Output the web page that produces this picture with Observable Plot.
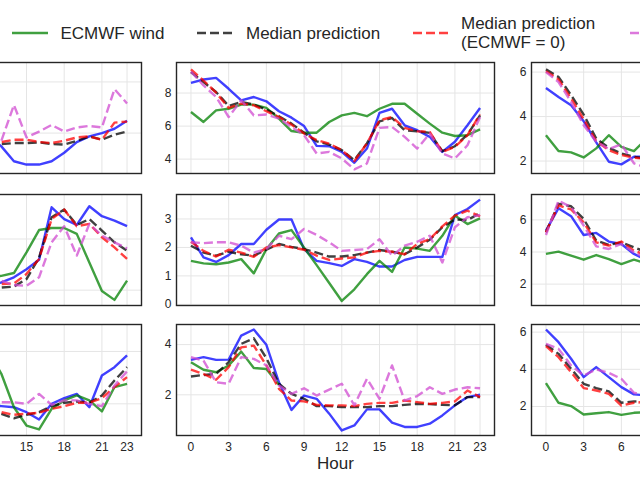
<!DOCTYPE html>
<html><head><meta charset="utf-8">
<script src="https://cdn.jsdelivr.net/npm/d3@7"></script>
<script src="https://cdn.jsdelivr.net/npm/@observablehq/plot@0.6"></script>
<style>
body{margin:0;background:#fff;}
#root{position:relative;width:640px;height:481px;overflow:hidden;font-family:"Liberation Sans",Arial,sans-serif;color:#262626;background:#fff}
#root svg{position:absolute;overflow:visible}
</style></head><body><div id="root"></div>
<script>
// ---------- categories / ticks ----------
const hoursAll = [0,1,2,3,4,5,6,7,8,9,10,11,12,13,14,15,16,17,18,19,20,21,22,23];
const hoursLate = [12,13,14,15,16,17,18,19,20,21,22,23];   // visible part of left column
const hoursEarly = [0,1,2,3,4,5,6,7,8];                      // visible part of right column
const xTicks = [0,3,6,9,12,15,18,21,23];
const legendLabels = ["ECMWF wind","Median prediction","Median prediction\n(ECMWF = 0)"];
const xLabel = "Hour";

// ---------- row 0 ----------
const r0c0_blue  = [3.9,3.48,2.9,2.77,2.77,2.9,3.23,3.65,3.87,4.0,4.17,4.48];
const r0c0_black = [3.57,3.57,3.61,3.61,3.64,3.57,3.55,3.7,3.87,3.74,3.94,4.06];
const r0c0_red   = [3.62,3.65,3.74,3.74,3.65,3.61,3.7,3.83,3.87,3.74,4.41,4.45];
const r0c0_pink  = [3.6,3.7,5.1,3.83,4.06,4.32,4.06,4.22,4.28,4.22,5.72,5.16];

const r0c1_green = [6.85,6.25,6.95,7.05,7.3,7.3,7.1,6.45,5.7,5.6,5.6,6.25,6.65,6.8,6.6,7.05,7.35,7.35,6.75,6.15,5.6,5.4,5.45,5.8];
const r0c1_blue  = [8.62,8.82,8.92,8.26,7.56,7.76,7.5,6.9,6.51,6.0,4.8,4.78,4.44,3.78,4.64,6.8,7.05,6.05,5.75,5.35,4.44,5.05,6.05,7.1];
const r0c1_black = [9.27,8.66,8.06,7.22,7.46,7.3,7.0,6.6,6.15,5.6,5.08,4.88,4.54,3.94,4.95,6.29,6.49,5.75,5.69,5.59,4.48,4.78,5.49,6.65];
const r0c1_red   = [9.43,8.76,8.02,7.1,7.36,7.26,6.9,6.55,6.09,5.55,5.15,4.94,4.54,3.88,4.95,6.35,6.55,5.89,5.69,5.65,4.44,4.74,5.45,6.71];
const r0c1_pink  = [9.3,8.46,7.76,6.55,7.56,6.65,6.7,6.45,5.95,5.45,4.34,4.44,4.04,3.38,3.74,5.89,5.95,5.35,4.64,5.55,4.34,4.04,4.84,6.55];

const r0c2_green = [3.16,2.45,2.39,2.16,2.57,3.16,2.64,2.45,3.0];
const r0c2_blue  = [5.28,4.88,4.51,3.79,2.84,1.97,1.85,2.19,2.2];
const r0c2_black = [6.12,5.78,4.96,4.09,3.01,2.6,2.34,2.19,2.1];
const r0c2_red   = [6.04,5.67,4.81,3.88,2.9,2.49,2.27,2.15,2.1];
const r0c2_pink  = [6.0,5.55,4.66,3.61,2.87,2.54,2.75,1.9,1.7];

// ---------- row 1 ----------
const r1c0_green = [2.5,2.56,2.67,3.48,4.35,4.43,4.43,4.2,3.08,1.97,1.62,2.37];
const r1c0_blue  = [2.2,2.3,2.5,2.82,3.19,5.24,4.78,4.55,5.28,4.89,4.72,4.5];
const r1c0_black = [2.1,2.1,2.14,2.43,3.28,4.85,5.15,4.55,4.78,4.33,3.87,3.54];
const r1c0_red   = [2.2,2.24,2.26,2.63,3.22,4.78,5.15,4.5,4.59,4.07,3.67,3.22];
const r1c0_pink  = [2.4,2.37,2.2,2.17,2.5,3.87,4.5,3.35,4.59,4.13,3.87,3.63];

const r1c1_green = [1.53,1.44,1.41,1.47,1.59,1.09,1.94,2.49,2.61,1.99,1.38,0.75,0.12,0.53,1.06,1.53,1.14,2.0,1.96,1.88,2.41,3.12,2.82,3.02];
const r1c1_blue  = [2.35,1.65,1.49,1.73,2.12,2.12,2.62,2.98,2.98,1.94,1.53,1.45,1.35,1.59,1.49,1.33,1.33,1.56,1.67,1.67,1.67,3.14,3.35,3.68];
const r1c1_black = [2.06,1.82,1.71,1.85,1.76,1.71,1.92,2.12,2.02,1.94,1.82,1.68,1.68,1.73,1.82,1.91,1.85,1.76,2.0,2.27,2.71,2.98,2.96,3.21];
const r1c1_red   = [2.2,1.88,1.68,1.92,1.82,1.67,2.0,2.08,2.0,1.92,1.71,1.56,1.61,1.65,1.82,1.88,1.85,1.76,2.12,2.29,2.74,3.12,3.29,3.09];
const r1c1_pink  = [2.18,2.15,2.18,2.18,2.06,1.82,1.94,2.41,2.29,2.65,2.44,2.18,1.88,1.91,1.94,2.29,1.71,2.06,2.2,2.41,1.47,2.71,3.06,3.14];

const r1c2_green = [3.88,4.02,3.77,3.52,3.81,3.56,3.25,3.52,3.3];
const r1c2_blue  = [5.33,6.73,6.23,5.06,5.19,4.65,4.5,3.88,3.5];
const r1c2_black = [5.23,7.0,6.85,6.06,4.71,4.44,4.6,4.29,4.0];
const r1c2_red   = [5.23,6.9,6.65,5.85,4.6,4.4,4.65,4.08,3.8];
const r1c2_pink  = [5.06,7.2,6.79,5.65,4.35,4.19,4.5,3.98,3.6];

// ---------- row 2 ----------
const r2c0_green = [4.0,3.15,1.87,1.17,1.02,1.81,2.13,2.32,2.13,1.71,2.64,2.76];
const r2c0_blue  = [1.95,1.91,1.87,1.68,1.4,2.0,2.22,2.38,1.87,3.08,3.4,3.85];
const r2c0_black = [1.75,1.62,1.45,1.58,1.68,1.91,2.04,2.09,2.04,2.32,2.89,3.4];
const r2c0_red   = [1.75,1.68,1.58,1.62,1.66,1.81,1.91,2.04,2.04,2.22,2.64,3.02];
const r2c0_pink  = [2.05,2.06,2.06,2.0,2.38,1.96,2.13,2.13,2.0,1.91,2.7,3.24];

const r2c1_green = [3.3,3.0,2.9,3.17,3.72,3.07,3.03,2.4];
const r2c1_blue  = [3.39,3.5,3.39,3.4,4.36,4.6,3.99,2.5,1.4,1.97,1.84,1.25,0.58,0.78,1.42,1.42,0.89,0.72,0.72,0.85,1.18,1.58,1.91,2.01];
const r2c1_black = [2.73,2.79,2.83,3.3,4.03,4.25,3.46,2.44,2.04,1.84,1.55,1.55,1.51,1.51,1.51,1.55,1.55,1.6,1.64,1.63,1.6,1.58,1.91,1.91];
const r2c1_red   = [3.0,2.83,2.6,3.1,3.89,3.96,3.17,2.24,1.77,1.74,1.6,1.58,1.58,1.55,1.64,1.68,1.68,1.77,1.71,1.64,1.68,1.74,2.17,1.91];
const r2c1_pink  = [3.5,3.36,2.5,2.44,3.5,3.43,3.17,2.37,2.04,2.26,1.97,2.21,2.44,1.58,2.64,1.84,3.17,1.77,1.95,2.3,2.04,2.21,2.3,2.26];

const r2c2_green = [3.26,2.2,2.02,1.57,1.64,1.7,1.55,1.66,1.7];
const r2c2_blue  = [6.14,5.46,4.57,3.58,4.12,3.58,3.04,2.65,2.6];
const r2c2_black = [5.32,4.83,4.03,3.22,2.99,2.81,2.2,2.27,2.3];
const r2c2_red   = [5.25,4.65,3.85,2.99,2.86,2.68,2.05,2.2,2.25];
const r2c2_pink  = [5.37,5.1,4.21,3.67,3.99,3.81,3.49,2.74,2.6];

// ---------- styling ----------
const COL = {green:"#008000", black:"#000000", red:"#ff0000", pink:"#d04bd0", blue:"#0000ff"};
const DASH = "9,4";
const ALPHA = 0.75;
const LW = 2.4;

const frameLeft = [-177, 176, 531];
const frameTop = [62, 194, 324];
const FW = 318, FH = 111;
const XD = [-1.15, 24.15];
const PAGE_W = 640;

const panels = [
  {r:0,c:0,hrs:hoursLate, yd:[2.42,6.76], yt:[4,6], s:{blue:r0c0_blue,black:r0c0_black,red:r0c0_red,pink:r0c0_pink}},
  {r:0,c:1,hrs:hoursAll,  yd:[3.13,9.85], yt:[4,6,8], s:{blue:r0c1_blue,green:r0c1_green,black:r0c1_black,red:r0c1_red,pink:r0c1_pink}},
  {r:0,c:2,hrs:hoursEarly,yd:[1.44,6.43], yt:[2,4,6], s:{blue:r0c2_blue,green:r0c2_green,black:r0c2_black,red:r0c2_red,pink:r0c2_pink}},
  {r:1,c:0,hrs:hoursLate, yd:[1.4,5.74], yt:[2,4], s:{blue:r1c0_blue,green:r1c0_green,black:r1c0_black,red:r1c0_red,pink:r1c0_pink}},
  {r:1,c:1,hrs:hoursAll,  yd:[-0.04,3.86], yt:[0,1,2,3], s:{blue:r1c1_blue,green:r1c1_green,black:r1c1_black,red:r1c1_red,pink:r1c1_pink}},
  {r:1,c:2,hrs:hoursEarly,yd:[0.67,7.58], yt:[2,4,6], s:{blue:r1c2_blue,green:r1c2_green,black:r1c2_black,red:r1c2_red,pink:r1c2_pink}},
  {r:2,c:0,hrs:hoursLate, yd:[0.79,5.03], yt:[2,4], s:{blue:r2c0_blue,green:r2c0_green,black:r2c0_black,red:r2c0_red,pink:r2c0_pink}},
  {r:2,c:1,hrs:hoursAll,  yd:[0.38,4.8], yt:[2,4], s:{blue:r2c1_blue,green:r2c1_green,black:r2c1_black,red:r2c1_red,pink:r2c1_pink}},
  {r:2,c:2,hrs:hoursEarly,yd:[0.44,6.41], yt:[2,4,6], s:{blue:r2c2_blue,green:r2c2_green,black:r2c2_black,red:r2c2_red,pink:r2c2_pink}},
];
const drawOrder = ["blue","green","black","red","pink"];
const dashed = {blue:false, green:false, black:true, red:true, pink:true};

const root = document.getElementById("root");

for (const p of panels) {
  const bottom = p.r === 2;
  const mL = 30, mR = 6, mT = 6, mB = bottom ? 28 : 6;
  // page x of an hour in this panel (used only to skip labels lying wholly outside the page)
  const pageX = h => frameLeft[p.c] + (h - XD[0]) / (XD[1] - XD[0]) * FW;
  const labelTicksX = xTicks.filter(h => pageX(h) - 8 >= 0 && pageX(h) + 8 <= PAGE_W);
  const marks = [
    Plot.gridX(xTicks, {stroke:"#e5e5e5", strokeOpacity:1, strokeWidth:1}),
    Plot.gridY(p.yt, {stroke:"#e5e5e5", strokeOpacity:1, strokeWidth:1})
  ];
  for (const key of drawOrder) {
    const vals = p.s[key];
    if (!vals) continue;
    const data = vals.map((v,i) => ({hour:p.hrs[i], v}));
    marks.push(Plot.line(data, {x:"hour", y:"v", stroke:COL[key], strokeOpacity:ALPHA, strokeWidth:LW,
      strokeDasharray: dashed[key] ? DASH : null, strokeLinejoin:"round", strokeLinecap:"butt"}));
  }
  if (frameLeft[p.c] - 20 >= 0) marks.push(Plot.axisY(p.yt, {tickSize:0, tickPadding:5, fontSize:12, label:null}));
  if (bottom) marks.push(Plot.axisX(labelTicksX, {tickSize:0, tickPadding:7, fontSize:12, label:null}));
  marks.push(Plot.frame({stroke:"#262626", strokeWidth:1.4}));
  const svg = Plot.plot({
    width: mL+FW+mR, height: mT+FH+mB,
    marginLeft:mL, marginRight:mR, marginTop:mT, marginBottom:mB,
    x:{domain:XD, axis:null},
    y:{domain:p.yd, axis:null},
    style:{fontFamily:'"Liberation Sans", Arial, sans-serif', color:"#262626", background:"transparent", overflow:"visible"},
    marks
  });
  svg.style.left = (frameLeft[p.c]-mL)+"px";
  svg.style.top = (frameTop[p.r]-mT)+"px";
  root.appendChild(svg);
}

// ---------- legend and axis label ----------
const NS = "http://www.w3.org/2000/svg";
const leg = document.createElementNS(NS, "svg");
leg.setAttribute("width", 640); leg.setAttribute("height", 481);
leg.style.left = "0px"; leg.style.top = "0px";
leg.setAttribute("font-family", '"Liberation Sans", Arial, sans-serif');
function addLine(x1,x2,y,key){
  const l = document.createElementNS(NS,"line");
  l.setAttribute("x1",x1); l.setAttribute("x2",x2); l.setAttribute("y1",y); l.setAttribute("y2",y);
  l.setAttribute("stroke",COL[key]); l.setAttribute("stroke-opacity",ALPHA); l.setAttribute("stroke-width",LW);
  if (dashed[key]) l.setAttribute("stroke-dasharray",DASH);
  leg.appendChild(l);
}
function addText(x,y,str,size,anchor){
  const t = document.createElementNS(NS,"text");
  t.setAttribute("x",x); t.setAttribute("y",y); t.setAttribute("font-size",size);
  t.setAttribute("fill","#262626");
  if (anchor) t.setAttribute("text-anchor",anchor);
  t.textContent = str; leg.appendChild(t);
}
addLine(12,48,33,"green");  addText(60.5,39.3,legendLabels[0],17);
addLine(197,233,33,"black"); addText(246,39.3,legendLabels[1],17);
addLine(413,449,33,"red");
const two = legendLabels[2].split("\n");
addText(461,28.5,two[0],17); addText(461,48,two[1],17);
addLine(630,666,33,"pink");
addText(335.5,469,xLabel,17,"middle");
root.appendChild(leg);
</script>
</body></html>
